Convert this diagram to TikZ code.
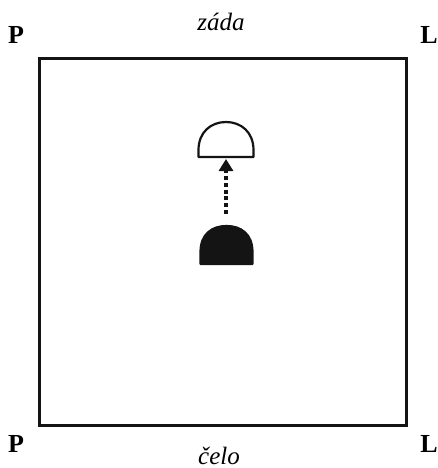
\documentclass[tikz,border=0pt]{standalone}
\usepackage{fontspec}
\setmainfont{Liberation Serif}
\usetikzlibrary{arrows.meta, positioning}
\definecolor{dkInk}{RGB}{20,20,20}

\begin{document}
\begin{tikzpicture}[
    x=0.5pt, y=-0.5pt, font=\fontsize{10.5}{12}\selectfont,
    corner/.style={font=\fontsize{13}{15}\selectfont\bfseries, anchor=base},
    side/.style={font=\fontsize{12.5}{15}\selectfont\itshape, anchor=base},
    hall/.style={draw=dkInk, line width=1.5pt},
    dome/.style={draw=dkInk, line width=1.1pt, line join=round},
    move/.style={draw=dkInk, line width=1.6pt, dash pattern=on 2pt off 1.4pt,
                 -{Triangle[length=6pt, width=7pt]}}
]
\useasboundingbox (0,0) rectangle (438,468);

% the room
\draw[hall] (40,58.5) rectangle (407,425);

% corner and side labels
\node[corner] (pTop) at (16,43)  {P};
\node[corner] (lTop) at (429,43) {L};
\node[corner] (pBot) at (16,452) {P};
\node[corner] (lBot) at (429,452) {L};
\node[side] (back)  at (221,30)  {záda};
\node[side] (front) at (219,464) {čelo};

% start (filled) and end (open) position
\draw[dome, fill=dkInk] (200.5,264) -- (200.5,252)
    .. controls (200.5,234) and (212,226) .. (226.5,226)
    .. controls (241,226) and (252.5,234) .. (252.5,252) -- (252.5,264) -- cycle;
\draw[dome, fill=white] (198.5,157) -- (198.5,150)
    .. controls (198.5,132) and (211,122) .. (226,122)
    .. controls (241,122) and (253.5,132) .. (253.5,150) -- (253.5,157) -- cycle;

\coordinate (from) at (226,214);
\coordinate (to)   at (226,159);
\draw[move] (from) -- (to);
\end{tikzpicture}
\end{document}
